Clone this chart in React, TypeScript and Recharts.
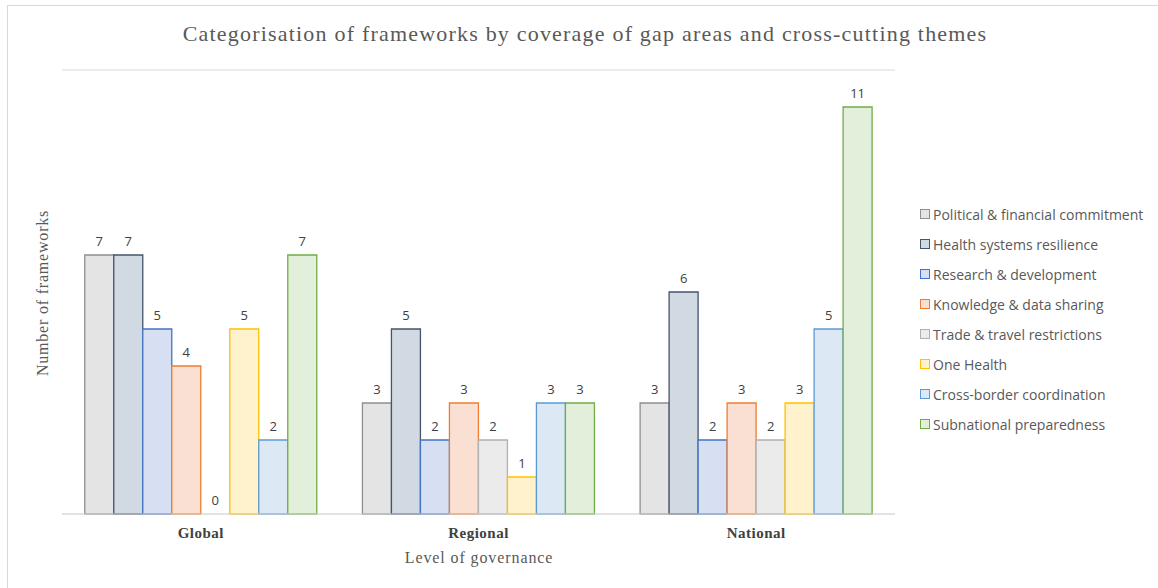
import React from "react";
import { BarChart, Bar, XAxis, YAxis, CartesianGrid, LabelList, Cell } from "recharts";

const levels = ["Global", "Regional", "National"];

const seriesNames = [
  "Political & financial commitment",
  "Health systems resilience",
  "Research & development",
  "Knowledge & data sharing",
  "Trade & travel restrictions",
  "One Health",
  "Cross-border coordination",
  "Subnational preparedness",
];

// values per series, in order Global / Regional / National
const political = [7, 3, 3];
const healthSystems = [7, 5, 6];
const research = [5, 2, 2];
const knowledge = [4, 3, 3];
const trade = [0, 2, 2];
const oneHealth = [5, 1, 3];
const crossBorder = [2, 3, 5];
const subnational = [7, 3, 11];

const seriesValues = [political, healthSystems, research, knowledge, trade, oneHealth, crossBorder, subnational];

const fills = ["#e4e4e4", "#d1d9e3", "#d7e0f2", "#f9e0d2", "#ebebeb", "#fff2cc", "#dce9f5", "#e2efda"];
const strokes = ["#8f8f8f", "#44546a", "#4472c4", "#ed7d31", "#b0b0b0", "#ffc000", "#5b9bd5", "#70ad47"];

const yTicks = [0, 2, 4, 6, 8, 10, 12];

const data = levels.map((lvl, i) => {
  const row: any = { level: lvl };
  seriesNames.forEach((s, k) => {
    row[`s${k}`] = seriesValues[k][i];
  });
  return row;
});

const serif = "'Liberation Serif', 'DejaVu Serif', serif";
const sans = "'Open Sans', 'Noto Sans', sans-serif";

const CategoryTick = (props: any) => {
  const { x, y, payload } = props;
  return (
    <text
      x={x}
      y={y + 16}
      textAnchor="middle"
      fontFamily={serif}
      fontWeight="bold"
      fontSize={15}
      letterSpacing={0.5}
      fill="#404040"
    >
      {payload.value}
    </text>
  );
};

// draws the value above the bar, also when the value is 0
const ValueLabel = (props: any) => {
  const { x, y, width, value } = props;
  if (value == null) return null;
  return (
    <text
      x={Number(x) + Number(width) / 2}
      y={Number(y) - 9}
      textAnchor="middle"
      fill="#404040"
      fontSize={13}
      fontFamily={sans}
    >
      {value}
    </text>
  );
};

export default function App() {
  return (
    <div style={{ position: "absolute", left: 0, top: 0, width: 1158, height: 588, background: "#fff", overflow: "hidden" }}>
      <div
        style={{
          position: "absolute",
          left: 7,
          top: 5,
          width: 1160,
          height: 600,
          borderLeft: "1px solid #d9d9d9",
          borderTop: "1px solid #d9d9d9",
        }}
      />
      <div
        style={{
          position: "absolute",
          left: 0,
          top: 21,
          width: 1170,
          textAlign: "center",
          fontFamily: serif,
          fontSize: 22,
          letterSpacing: 1.2,
          color: "#595959",
        }}
      >
        Categorisation of frameworks by coverage of gap areas and cross-cutting themes
      </div>
      <div
        style={{
          position: "absolute",
          left: 0,
          top: 549,
          width: 958,
          textAlign: "center",
          fontFamily: serif,
          fontSize: 16,
          letterSpacing: 0.9,
          color: "#595959",
        }}
      >
        Level of governance
      </div>
      <div
        style={{
          position: "absolute",
          left: 43,
          top: 293,
          transform: "translate(-50%, -50%) rotate(-90deg)",
          whiteSpace: "nowrap",
          fontFamily: serif,
          fontSize: 16,
          letterSpacing: 0.8,
          color: "#595959",
        }}
      >
        Number of frameworks
      </div>
      <div
        style={{
          position: "absolute",
          left: 920,
          top: 199,
          fontFamily: sans,
          fontSize: 14,
          color: "#595959",
        }}
      >
        {seriesNames.map((name, i) => (
          <div key={name} style={{ display: "flex", alignItems: "center", height: 30, whiteSpace: "nowrap" }}>
            <span
              style={{
                display: "inline-block",
                width: 8,
                height: 8,
                background: fills[i],
                border: `1px solid ${strokes[i]}`,
                marginRight: 3,
              }}
            />
            <span>{name}</span>
          </div>
        ))}
      </div>
      <div style={{ position: "absolute", left: 0, top: 0 }}>
        <BarChart
          width={1158}
          height={588}
          data={data}
          margin={{ top: 70, right: 263, bottom: 0, left: 62 }}
          barCategoryGap="8.2%"
          barGap={0}
        >
          <CartesianGrid vertical={false} stroke="#d9d9d9" />
          <XAxis
            dataKey="level"
            axisLine={{ stroke: "#d9d9d9" }}
            tickLine={false}
            tick={<CategoryTick />}
            height={74}
          />
          <YAxis width={0} domain={[0, 12]} ticks={yTicks} tick={false} axisLine={false} tickLine={false} />
          {seriesNames.map((name, k) => (
            <Bar
              key={name}
              dataKey={`s${k}`}
              name={name}
              fill={fills[k]}
              stroke={strokes[k]}
              strokeWidth={1.3}
              minPointSize={0.01}
              isAnimationActive={false}
            >
              {seriesValues[k].map((v, i) => (
                <Cell key={i} stroke={v === 0 ? "none" : strokes[k]} fill={v === 0 ? "none" : fills[k]} />
              ))}
              <LabelList dataKey={`s${k}`} content={<ValueLabel />} />
            </Bar>
          ))}
        </BarChart>
      </div>
    </div>
  );
}
